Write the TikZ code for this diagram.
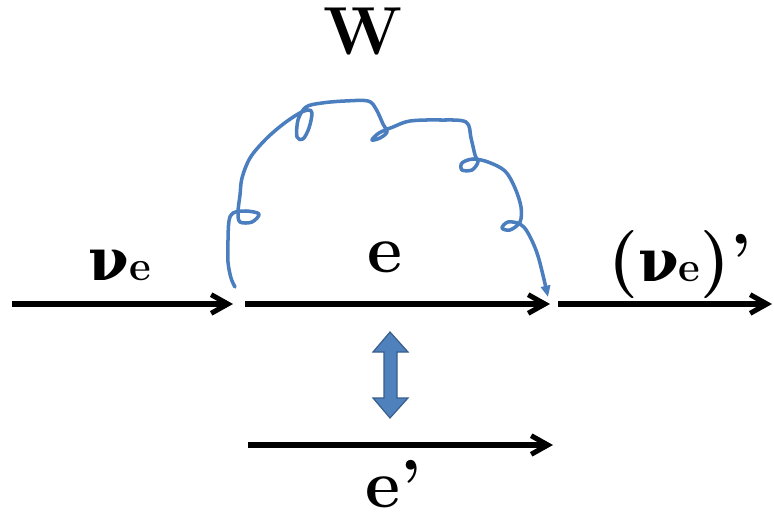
\documentclass[tikz,border=0pt]{standalone}
\usepackage{fontspec}
\newfontfamily\grkfont{DejaVu Serif}
\usetikzlibrary{arrows.meta}

\definecolor{wblue}{RGB}{74,126,190}
\definecolor{afill}{RGB}{79,129,189}
\definecolor{aedge}{RGB}{56,93,140}

\newcommand{\nue}{{\grkfont\fontsize{50}{54}\selectfont ν}{\fontsize{36}{40}\selectfont e}}

\begin{document}
\begin{tikzpicture}[
        x=0.3mm, y=-0.3mm,
        lbl/.style={font=\bfseries\fontsize{58}{62}\selectfont, inner sep=0pt},
        fermion/.style={draw, line width=4.3pt, -{Straight Barb[length=5mm, width=5.6mm]}},
        boson/.style={draw=wblue, line width=3pt, line cap=round, line join=round,
          -{Triangle[length=3.4mm, width=2.8mm]}},
        swap/.style={fill=afill, draw=aedge, line width=1pt}
      ]
      \useasboundingbox (0,0) rectangle (774,521);

      % Ends of the fermion lines
      \coordinate (in_l) at (12,304);
      \coordinate (in_r) at (233,304);
      \coordinate (e_l) at (245,304);
      \coordinate (e_r) at (550,304);
      \coordinate (out_l) at (558,304);
      \coordinate (out_r) at (772,304);
      \coordinate (ep_l) at (248,445);
      \coordinate (ep_r) at (553,445);

      % Labels
      \node [lbl, anchor=base] (w_lab) at (363,55) {W};
      \node [lbl, anchor=base] (nu_in) at (120,280) {\nue};
      \node [lbl, anchor=base] (e_lab) at (385,272) {e};
      \node [lbl, anchor=base] (nu_out) at (680,281) {(\nue)’};
      \node [lbl, anchor=base, text depth=0pt] (ep_lab) at (394,507) {e’};

      % Fermion lines
      \path [fermion] (in_l) -- (in_r);
      \path [fermion] (e_l) -- (e_r);
      \path [fermion] (out_l) -- (out_r);
      \path [fermion] (ep_l) -- (ep_r);

      % W exchange (hand drawn)
      \coordinate (w_a) at (235,287);
      \coordinate (w_b) at (548,297);
      \draw [boson] plot [smooth, tension=0.55] coordinates {
        (w_a) (231,278) (228,262) (228,240) (229,221) (233,213) (246,211)
        (259,214) (252,222) (240,222) (238,212) (240,195) (242,178)
        (250,158) (265,140) (282,125) (298,114) (308,110) (312,113)
        (309,128) (303,139) (297,137) (298,120) (306,107) (322,103)
        (345,101) (368,101) (376,109) (383,124) (387,132) (380,138)
        (372,140) (379,133) (393,127) (410,121) (440,120) (466,122)
        (471,138) (475,155) (478,162) (472,170) (462,170) (462,163)
        (473,159) (488,162) (505,171) (515,188) (521,207) (520,222)
        (510,230) (502,228) (508,222) (520,224) (528,233) (538,256)
        (w_b)};

      % Swap arrow between e and e'
      \draw [swap] (384,398) -- (373,398) -- (390,418) -- (408,398)
      -- (397,398) -- (397,352) -- (408,352) -- (390,332) -- (373,352)
      -- (384,352) -- cycle;

    \end{tikzpicture}
\end{document}
